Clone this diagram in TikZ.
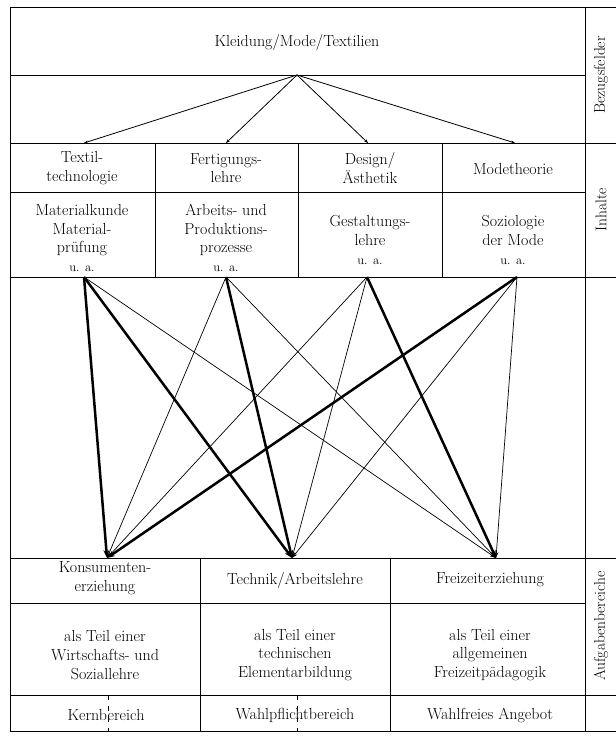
\documentclass[tikz,border=0pt]{standalone}
\usepackage{fontspec}
\usetikzlibrary{arrows.meta}

\tikzset{
  rule/.style={line width=0.8pt},
  txt/.style={align=center, inner sep=0pt, font=\fontsize{16}{18.6}\selectfont},
  sidetxt/.style={rotate=90, inner sep=0pt, font=\fontsize{15.5}{17}\selectfont},
  feed/.style={line width=0.8pt, -{Stealth[length=4pt,width=3pt]}},
  weak/.style={line width=0.7pt, -{Stealth[length=6pt,width=4pt]}},
  strong/.style={line width=2.5pt, -{Stealth[length=8pt,width=6pt]}},
  hint/.style={line width=0.7pt, dash pattern=on 5pt off 6pt}
}
\newcommand{\ua}{{\fontsize{12.5}{16}\selectfont u. a.}}

\begin{document}
\begin{tikzpicture}[x=1pt,y=-1pt]
  \useasboundingbox (0,0) rectangle (615,738);

  % outer frame and side column rules
  \draw[rule] (625,7) -- (10,7) -- (10,731) -- (625,731);
  \draw[rule] (585,7) -- (585,731);
  \draw[rule] (10,75) -- (585,75);
  \draw[rule] (10,143) -- (625,143);
  \draw[rule] (10,192) -- (585,192);
  \draw[rule] (10,277) -- (625,277);
  \draw[rule] (10,558) -- (625,558);
  \draw[rule] (10,603) -- (585,603);
  \draw[rule] (10,695) -- (625,695);

  % column rules of the content block
  \foreach \x in {155,298,442} \draw[rule] (\x,143) -- (\x,277);
  % column rules of the task block
  \foreach \x in {200,390} \draw[rule] (\x,558) -- (\x,731);

  % dashed hints in the bottom row
  \draw[hint] (108,695) -- (108,731);
  \draw[hint] (297,695) -- (297,731);

  % titles
  \node[txt] (title) at (297,43) {Kleidung/Mode/Textilien};

  \node[txt] (h1) at (82,168) {Textil-\\technologie};
  \node[txt] (h2) at (226,168) {Fertigungs-\\lehre};
  \node[txt] (h3) at (370,168) {Design/\\Ästhetik};
  \node[txt] (h4) at (513,169) {Modetheorie};

  \node[txt] (c1) at (82,238) {Materialkunde\\Material-\\prüfung\\\ua};
  \node[txt] (c2) at (226,238) {Arbeits- und\\Produktions-\\prozesse\\\ua};
  \node[txt] (c3) at (370,240) {Gestaltungs-\\lehre\\\ua};
  \node[txt] (c4) at (513,240) {Soziologie\\der Mode\\\ua};

  \node[txt] (k1) at (105,578) {Konsumenten-\\erziehung};
  \node[txt] (k2) at (295,580) {Technik/Arbeitslehre};
  \node[txt] (k3) at (490,580) {Freizeiterziehung};

  \node[txt] (t1) at (105,655) {als Teil einer\\Wirtschafts- und\\Soziallehre};
  \node[txt] (t2) at (295,655) {als Teil einer\\technischen\\Elementarbildung};
  \node[txt] (t3) at (490,655) {als Teil einer\\allgemeinen\\Freizeitpädagogik};

  \node[txt] (r1) at (106,715) {Kernbereich};
  \node[txt] (r2) at (295,715) {Wahlpflichtbereich};
  \node[txt] (r3) at (490,715) {Wahlfreies Angebot};

  % side labels
  \node[sidetxt] (s1) at (601,75) {Bezugsfelder};
  \node[sidetxt] (s2) at (601,210) {Inhalte};
  \node[sidetxt] (s3) at (601,626) {Aufgabenbereiche};

  % connection points
  \coordinate (A) at (297,75);
  \coordinate (U1) at (84,143);
  \coordinate (U2) at (226,143);
  \coordinate (U3) at (368,143);
  \coordinate (U4) at (515,143);
  \coordinate (T1) at (84,277);
  \coordinate (T2) at (226,277);
  \coordinate (T3) at (367,277);
  \coordinate (T4) at (517,277);
  \coordinate (B1) at (107,558);
  \coordinate (B2) at (292,558);
  \coordinate (B3) at (496,558);

  % fan-out from the reference field
  \foreach \u in {U1,U2,U3,U4} \draw[feed] (A) -- (\u);

  % contents to task areas: minor links
  \draw[weak] (T1) -- (B3);
  \draw[weak] (T2) -- (B1);
  \draw[weak] (T2) -- (B3);
  \draw[weak] (T3) -- (B1);
  \draw[weak] (T3) -- (B2);
  \draw[weak] (T4) -- (B2);
  \draw[weak] (T4) -- (B3);
  % major links
  \draw[strong] (T1) -- (B1);
  \draw[strong] (T1) -- (B2);
  \draw[strong] (T2) -- (B2);
  \draw[strong] (T3) -- (B3);
  \draw[strong] (T4) -- (B1);
\end{tikzpicture}
\end{document}
